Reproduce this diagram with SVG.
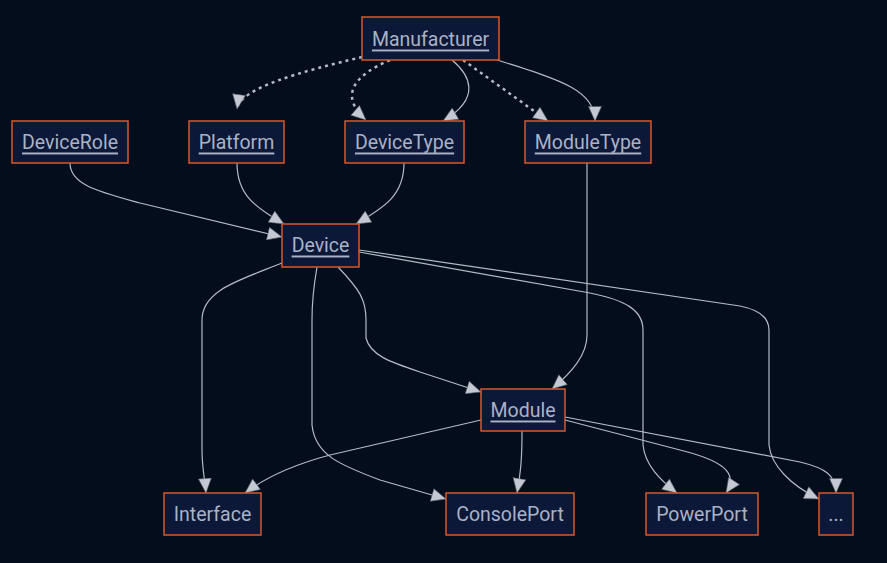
<svg xmlns="http://www.w3.org/2000/svg" width="887" height="563" viewBox="0 0 887 563">
<style>
.bg{fill:#030d1b}
.node rect{fill:#0c1838;stroke:#d8582b;stroke-width:1.5}
.node text{font-family:Roboto,"Liberation Sans",sans-serif;font-size:19.5px;fill:#aab2c6;text-anchor:middle;dominant-baseline:central}
.link text{text-decoration:underline}
.e{fill:none;stroke:#b4bac6;stroke-width:1.2;marker-end:url(#ah)}
.d{stroke-dasharray:3 4;stroke-width:2.5}
</style>
<defs>
<marker id="ah" markerUnits="userSpaceOnUse" markerWidth="16" markerHeight="14" refX="15" refY="7" orient="auto" viewBox="0 0 16 14">
<path d="M0.5,0.5 L15,7 L0.5,13.5 z" fill="#c3c8d3" stroke="#555c68" stroke-width="0.6"/>
</marker>
</defs>
<rect class="bg" width="887" height="563"/>
<g id="connectors">
<path class="e d" d="M362,57 C300,72 240,88 237,109"/>
<path class="e d" d="M390,60 C355,75 338,95 366,120"/>
<path class="e" d="M452,60 C470,75 482,98 443,121"/>
<path class="e d" d="M463,60 L548,121"/>
<path class="e" d="M497,60 C560,80 595,90 595,121"/>
<path class="e" d="M70,163 C70,185 100,192 140,203 L282,237"/>
<path class="e" d="M237,163 C237,195 255,207 284,224"/>
<path class="e" d="M404,163 C404,195 385,207 356,224"/>
<path class="e" d="M587,163 L587,335 C587,355 572,372 552,389"/>
<path class="e" d="M338,267 C360,290 366,300 366,320 L366,338 C370,355 390,362 420,372 L481,392"/>
<path class="e" d="M282,263 C240,280 202,290 202,320 L202,450 C202,468 205,480 206,493"/>
<path class="e" d="M317,267 C313,290 312,300 312,320 L312,425 C315,455 340,465 380,480 L446,499"/>
<path class="e" d="M481,420 L330,455 C300,463 270,474 245,493"/>
<path class="e" d="M522,431 C522,458 521,470 517,493"/>
<path class="e" d="M359,252 L590,293 C625,300 643,310 643,330 L643,445 C645,465 660,480 677,493"/>
<path class="e" d="M359,250 L740,306 C760,310 769,318 769,330 L769,445 C771,465 790,485 819,499"/>
<path class="e" d="M565,420 L680,450 C720,460 740,472 726,493"/>
<path class="e" d="M565,417 L800,462 C825,468 836,475 836,493"/>
</g>
<g id="Manufacturer" class="node link"><rect x="362" y="17" width="137" height="43"/><text x="430.5" y="39">Manufacturer</text></g>
<g id="DeviceRole" class="node link"><rect x="12" y="121" width="116" height="42"/><text x="70" y="142">DeviceRole</text></g>
<g id="Platform" class="node link"><rect x="189" y="121" width="95" height="42"/><text x="236.5" y="142">Platform</text></g>
<g id="DeviceType" class="node link"><rect x="345" y="121" width="119" height="42"/><text x="404.5" y="142">DeviceType</text></g>
<g id="ModuleType" class="node link"><rect x="525" y="121" width="126" height="42"/><text x="588" y="142">ModuleType</text></g>
<g id="Device" class="node link"><rect x="282" y="224" width="77" height="43"/><text x="320.5" y="245">Device</text></g>
<g id="Module" class="node link"><rect x="481" y="389" width="84" height="42"/><text x="523" y="410">Module</text></g>
<g id="Interface" class="node"><rect x="164" y="493" width="97" height="42"/><text x="212.5" y="514">Interface</text></g>
<g id="ConsolePort" class="node"><rect x="446" y="493" width="128" height="42"/><text x="510" y="514">ConsolePort</text></g>
<g id="PowerPort" class="node"><rect x="646" y="493" width="112" height="42"/><text x="702" y="514">PowerPort</text></g>
<g id="More" class="node"><rect x="819" y="493" width="34" height="42"/><text x="836" y="514">...</text></g>
</svg>
